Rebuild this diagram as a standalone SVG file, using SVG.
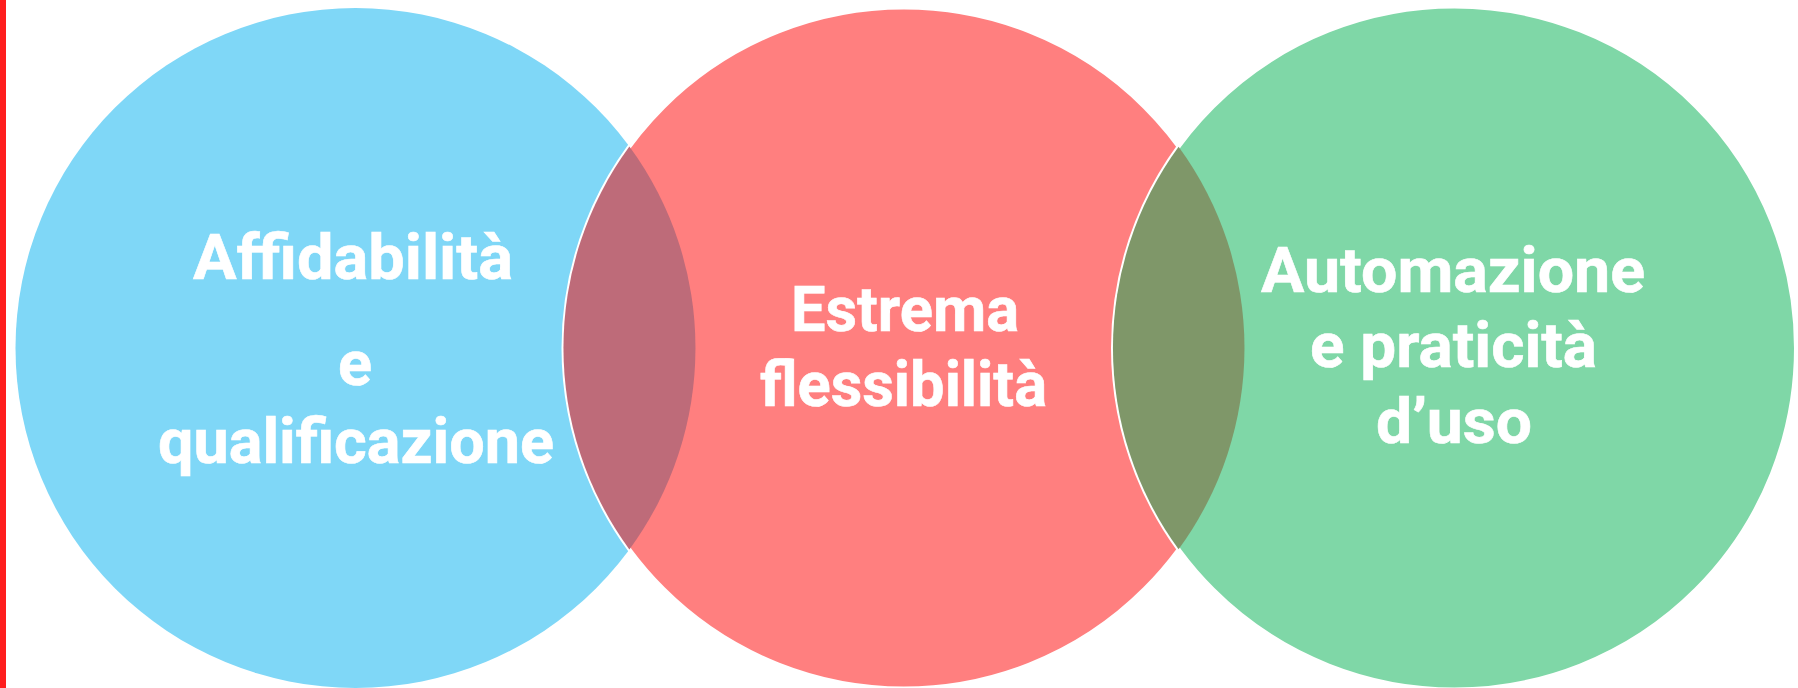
<svg xmlns="http://www.w3.org/2000/svg" width="1798" height="688" viewBox="0 0 1798 688">
<style>
.lbl{font-family:Roboto,"Open Sans","Liberation Sans",sans-serif;font-weight:bold;font-size:63px;fill:#ffffff;text-anchor:middle;stroke:#ffffff;stroke-width:0.6}
</style>
<rect x="0" y="0" width="1798" height="688" fill="#ffffff"/>
<rect x="0" y="0" width="6" height="688" fill="#ff1e1e"/>
<g id="circle-left">
<circle cx="355.5" cy="348" r="340" fill="#7fd7f7"/>
</g>
<g id="circle-middle">
<circle cx="904" cy="348" r="340.5" fill="#ff7f7f" stroke="#ffffff" stroke-width="4"/>
</g>
<g id="circle-right">
<circle cx="1454.5" cy="348" r="341.5" fill="#7fd7a7" stroke="#ffffff" stroke-width="4"/>
</g>
<g id="overlaps">
<path d="M629.4 146.6 A340 340 0 0 1 629.4 549.4 A340.5 340.5 0 0 1 629.4 146.6 Z" fill="#be6b79"/>
<path d="M1178.6 146.7 A340.5 340.5 0 0 1 1178.6 549.3 A341.5 341.5 0 0 1 1178.6 146.7 Z" fill="#7f9769"/>
</g>
<g id="text-left">
<text class="lbl" x="353" y="279" textLength="320" lengthAdjust="spacingAndGlyphs">Affidabilità</text>
<text class="lbl" x="355" y="385">e</text>
<text class="lbl" x="356" y="463" textLength="396" lengthAdjust="spacingAndGlyphs">qualificazione</text>
</g>
<g id="text-middle">
<text class="lbl" x="905" y="331" textLength="228" lengthAdjust="spacingAndGlyphs">Estrema</text>
<text class="lbl" x="903.5" y="406" textLength="287" lengthAdjust="spacingAndGlyphs">flessibilità</text>
</g>
<g id="text-right">
<text class="lbl" x="1453" y="292" textLength="384" lengthAdjust="spacingAndGlyphs">Automazione</text>
<text class="lbl" x="1453.5" y="367" textLength="287" lengthAdjust="spacingAndGlyphs">e praticità</text>
<text class="lbl" x="1454" y="443" textLength="156" lengthAdjust="spacingAndGlyphs">d’uso</text>
</g>
</svg>
